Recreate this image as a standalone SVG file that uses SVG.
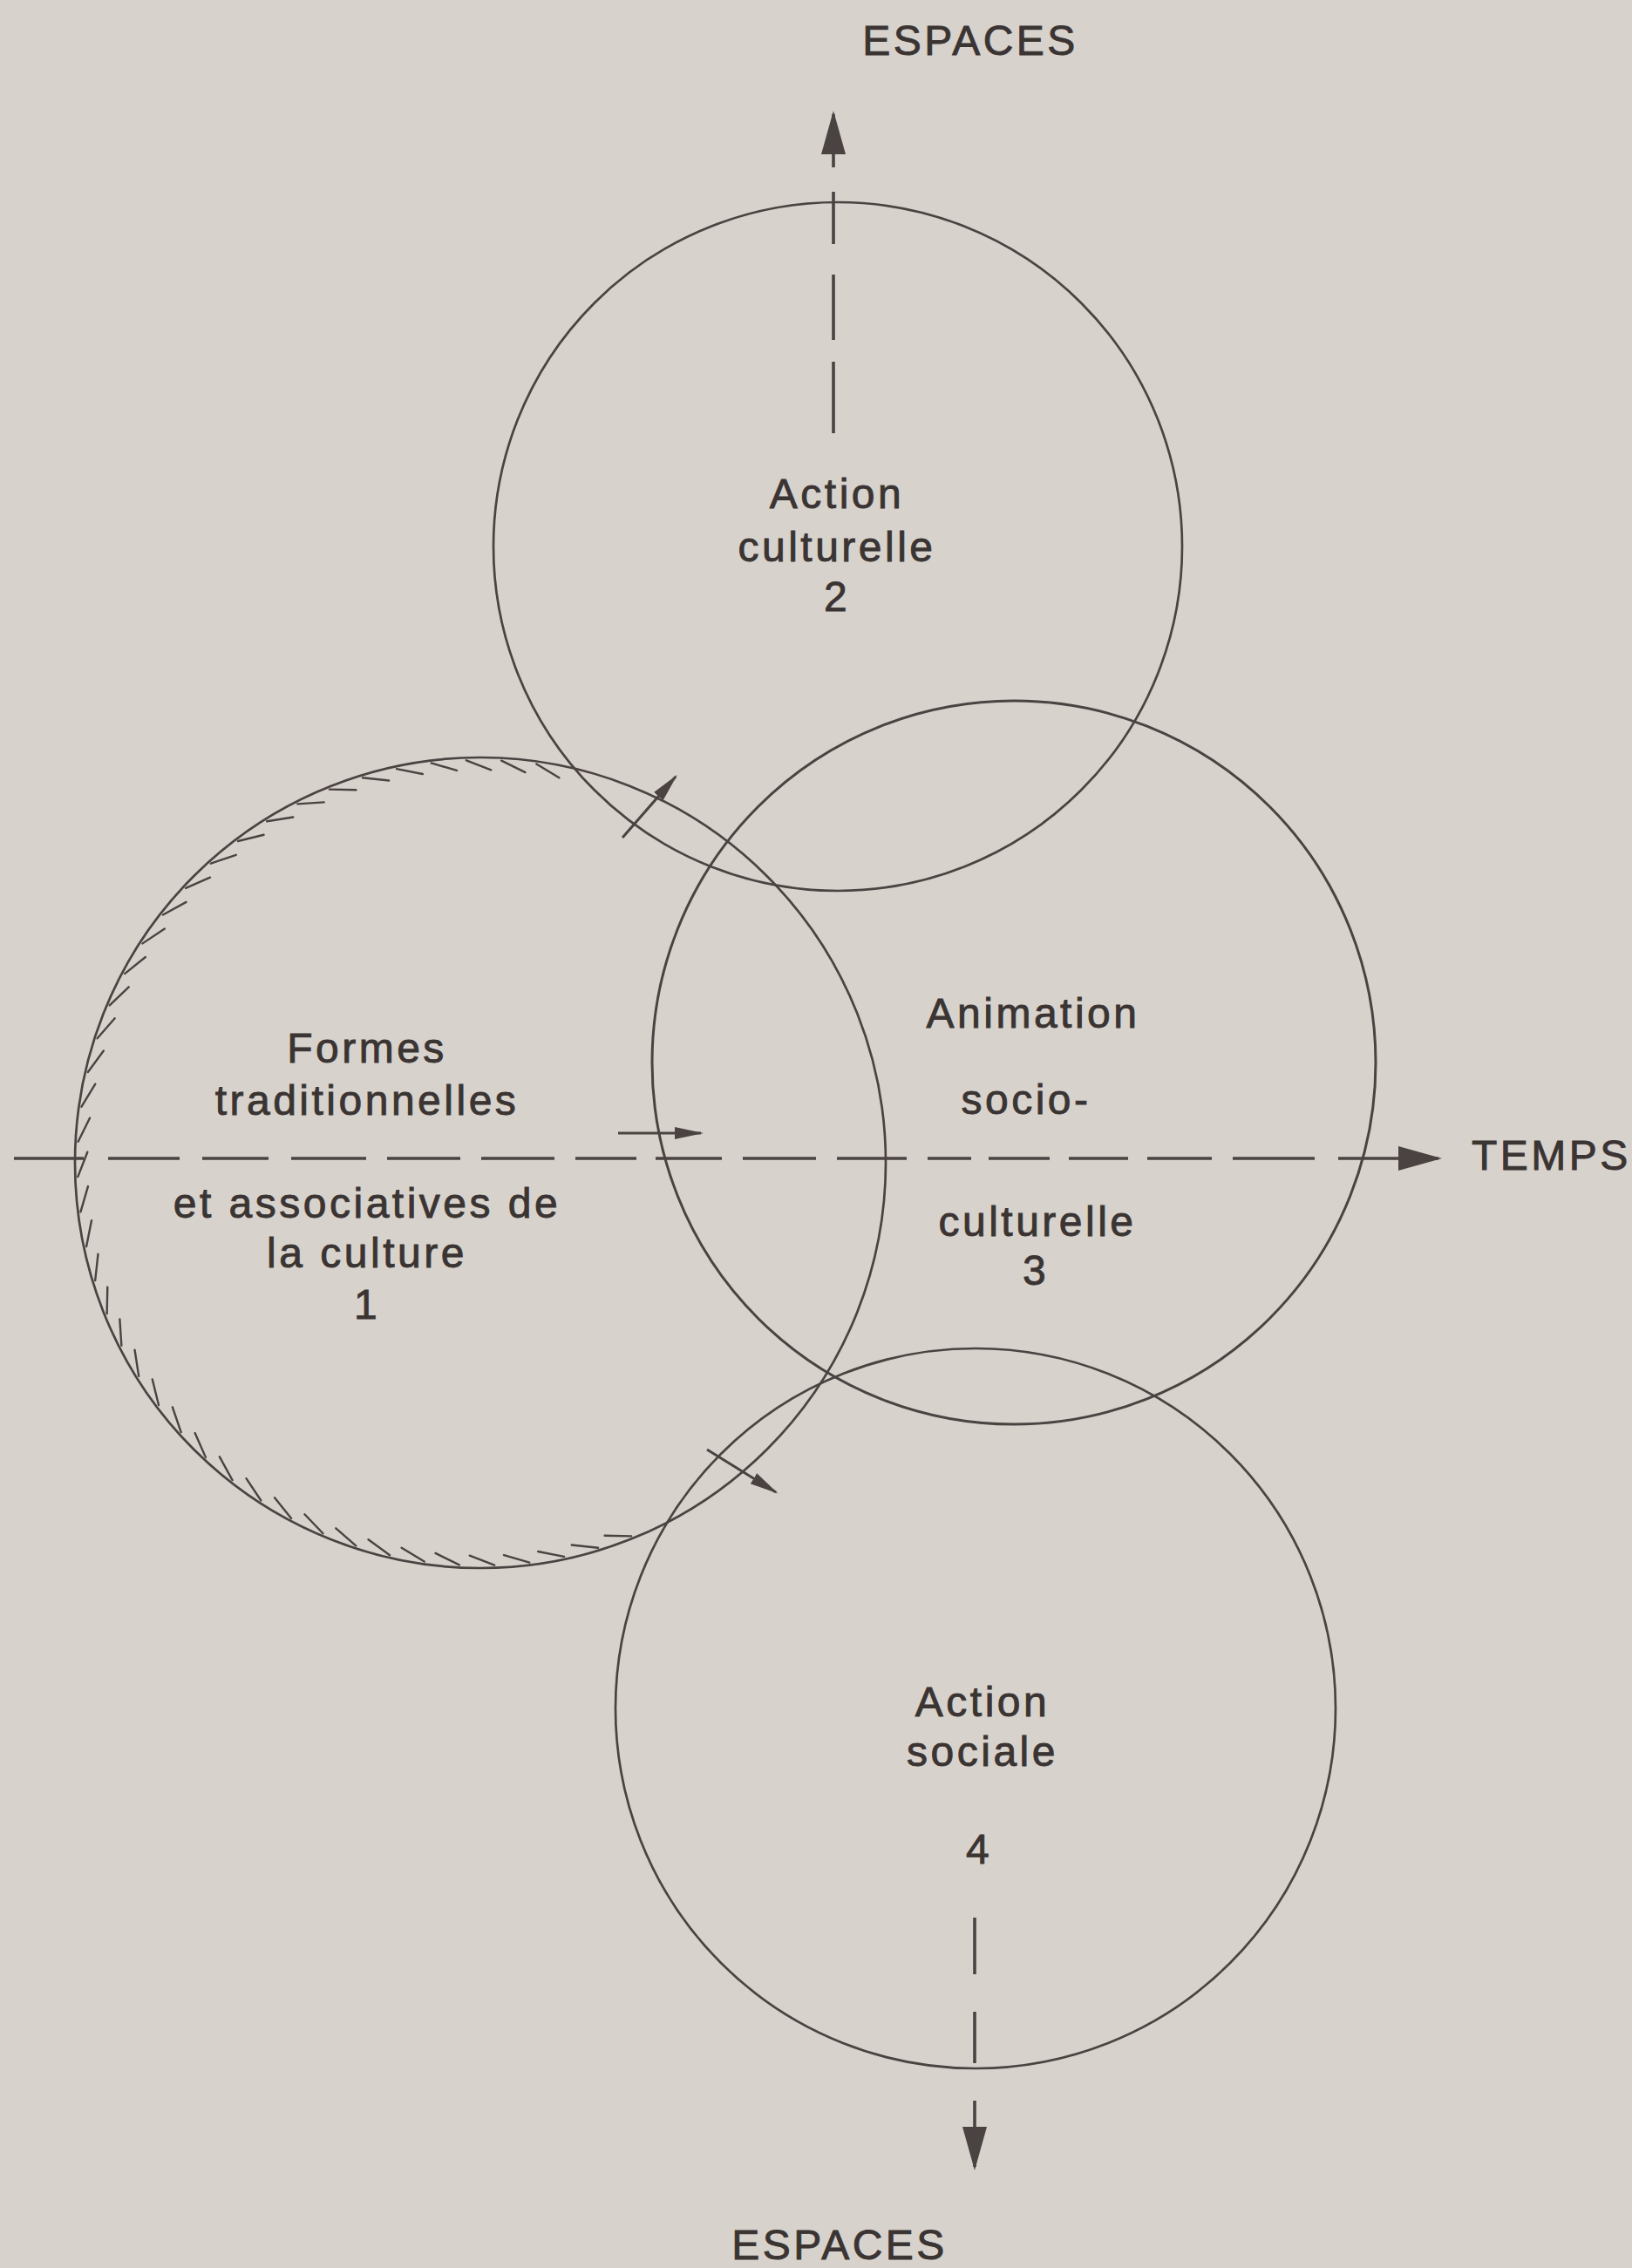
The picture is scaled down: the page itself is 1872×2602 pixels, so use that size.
<svg xmlns="http://www.w3.org/2000/svg" xmlns:xlink="http://www.w3.org/1999/xlink" width="1872" height="2602" viewBox="0 0 1872 2602">
<style>
.bg{fill:#d8d2cd}
.ring{fill:none;stroke:#4a4341;stroke-width:2.7}
.lbl{font-family:"Liberation Sans",Arial,Helvetica,sans-serif;font-size:48px;letter-spacing:3.5px;fill:#3a3432;stroke:#3a3432;stroke-width:0.9px;text-anchor:middle}
.axis{fill:none;stroke:#4a4341;stroke-width:3.6}
.arr{fill:none;stroke:#4a4341;stroke-width:3}
.tick{stroke:#4a4341;stroke-width:2.4;stroke-linecap:round}
</style>
<defs>
<marker id="headBig" markerUnits="userSpaceOnUse" markerWidth="52" markerHeight="30" refX="46" refY="14" orient="auto">
<path d="M0,0 L50,14 L0,28 Z" fill="#4a4341"/>
</marker>
<marker id="headSmall" markerUnits="userSpaceOnUse" markerWidth="36" markerHeight="16" refX="30" refY="7" orient="auto">
<path d="M0,0 L33,7 L0,14 Z" fill="#4a4341"/>
</marker>
<line id="tk" class="tick" x1="1013" y1="1334" x2="1001" y2="1362"/>
</defs>
<rect class="bg" x="0" y="0" width="1872" height="2602"/>

<g id="node-2">
<circle class="ring" cx="961" cy="627" r="395"/>
<text class="lbl" x="960" y="583">Action</text>
<text class="lbl" x="960" y="644">culturelle</text>
<text class="lbl" x="960" y="701">2</text>
</g>

<g id="node-3">
<circle class="ring" cx="1163" cy="1219" r="415" style="stroke-width:3"/>
<text class="lbl" x="1185" y="1179">Animation</text>
<text class="lbl" x="1177" y="1278">socio-</text>
<text class="lbl" x="1190" y="1418">culturelle</text>
<text class="lbl" x="1188" y="1474">3</text>
</g>

<g id="node-4">
<circle class="ring" cx="1119" cy="1960" r="413"/>
<text class="lbl" x="1127" y="1969">Action</text>
<text class="lbl" x="1127" y="2026">sociale</text>
<text class="lbl" x="1123" y="2138">4</text>
</g>

<g id="node-1">
<circle class="ring" cx="551" cy="1334" r="465"/>
<g id="hatch">
<use xlink:href="#tk" href="#tk" transform="rotate(68 551 1334)"/>
<use xlink:href="#tk" href="#tk" transform="rotate(73 551 1334)"/>
<use xlink:href="#tk" href="#tk" transform="rotate(78 551 1334)"/>
<use xlink:href="#tk" href="#tk" transform="rotate(83 551 1334)"/>
<use xlink:href="#tk" href="#tk" transform="rotate(88 551 1334)"/>
<use xlink:href="#tk" href="#tk" transform="rotate(93 551 1334)"/>
<use xlink:href="#tk" href="#tk" transform="rotate(98 551 1334)"/>
<use xlink:href="#tk" href="#tk" transform="rotate(103 551 1334)"/>
<use xlink:href="#tk" href="#tk" transform="rotate(108 551 1334)"/>
<use xlink:href="#tk" href="#tk" transform="rotate(113 551 1334)"/>
<use xlink:href="#tk" href="#tk" transform="rotate(118 551 1334)"/>
<use xlink:href="#tk" href="#tk" transform="rotate(123 551 1334)"/>
<use xlink:href="#tk" href="#tk" transform="rotate(128 551 1334)"/>
<use xlink:href="#tk" href="#tk" transform="rotate(133 551 1334)"/>
<use xlink:href="#tk" href="#tk" transform="rotate(138 551 1334)"/>
<use xlink:href="#tk" href="#tk" transform="rotate(143 551 1334)"/>
<use xlink:href="#tk" href="#tk" transform="rotate(148 551 1334)"/>
<use xlink:href="#tk" href="#tk" transform="rotate(153 551 1334)"/>
<use xlink:href="#tk" href="#tk" transform="rotate(158 551 1334)"/>
<use xlink:href="#tk" href="#tk" transform="rotate(163 551 1334)"/>
<use xlink:href="#tk" href="#tk" transform="rotate(168 551 1334)"/>
<use xlink:href="#tk" href="#tk" transform="rotate(173 551 1334)"/>
<use xlink:href="#tk" href="#tk" transform="rotate(178 551 1334)"/>
<use xlink:href="#tk" href="#tk" transform="rotate(183 551 1334)"/>
<use xlink:href="#tk" href="#tk" transform="rotate(188 551 1334)"/>
<use xlink:href="#tk" href="#tk" transform="rotate(193 551 1334)"/>
<use xlink:href="#tk" href="#tk" transform="rotate(198 551 1334)"/>
<use xlink:href="#tk" href="#tk" transform="rotate(203 551 1334)"/>
<use xlink:href="#tk" href="#tk" transform="rotate(208 551 1334)"/>
<use xlink:href="#tk" href="#tk" transform="rotate(213 551 1334)"/>
<use xlink:href="#tk" href="#tk" transform="rotate(218 551 1334)"/>
<use xlink:href="#tk" href="#tk" transform="rotate(223 551 1334)"/>
<use xlink:href="#tk" href="#tk" transform="rotate(228 551 1334)"/>
<use xlink:href="#tk" href="#tk" transform="rotate(233 551 1334)"/>
<use xlink:href="#tk" href="#tk" transform="rotate(238 551 1334)"/>
<use xlink:href="#tk" href="#tk" transform="rotate(243 551 1334)"/>
<use xlink:href="#tk" href="#tk" transform="rotate(248 551 1334)"/>
<use xlink:href="#tk" href="#tk" transform="rotate(253 551 1334)"/>
<use xlink:href="#tk" href="#tk" transform="rotate(258 551 1334)"/>
<use xlink:href="#tk" href="#tk" transform="rotate(263 551 1334)"/>
<use xlink:href="#tk" href="#tk" transform="rotate(268 551 1334)"/>
<use xlink:href="#tk" href="#tk" transform="rotate(273 551 1334)"/>
<use xlink:href="#tk" href="#tk" transform="rotate(278 551 1334)"/>
</g>
<text class="lbl" x="421" y="1219">Formes</text>
<text class="lbl" x="421" y="1279">traditionnelles</text>
<text class="lbl" x="421" y="1397">et associatives de</text>
<text class="lbl" x="421" y="1454">la culture</text>
<text class="lbl" x="421" y="1513">1</text>
</g>

<g id="connectors">
<path class="axis" d="M956,497 V415 M956,390 V315 M956,280 V220 M956,192 V131" marker-end="url(#headBig)"/>
<path class="axis" d="M1118,2200 V2265 M1118,2308 V2367 M1118,2410 V2486" marker-end="url(#headBig)"/>
<path class="axis" d="M16,1329 H96 M124,1329 H206 M232,1329 H308 M334,1329 H420 M444,1329 H528 M552,1329 H636 M660,1329 H730 M752,1329 H828 M852,1329 H936 M960,1329 H1040 M1064,1329 H1114 M1134,1329 H1204 M1226,1329 H1294 M1316,1329 H1390 M1414,1329 H1508 M1535,1329 H1650" marker-end="url(#headBig)"/>
<line class="arr" x1="714" y1="961" x2="775" y2="891" marker-end="url(#headSmall)"/>
<line class="arr" x1="709" y1="1300" x2="804" y2="1300" marker-end="url(#headSmall)"/>
<line class="arr" x1="811" y1="1663" x2="890" y2="1712" marker-end="url(#headSmall)"/>
</g>

<g id="axis-labels">
<text class="lbl" x="1113" y="63">ESPACES</text>
<text class="lbl" x="963" y="2592">ESPACES</text>
<text class="lbl" x="1688" y="1342" style="text-anchor:start">TEMPS</text>
</g>
</svg>
